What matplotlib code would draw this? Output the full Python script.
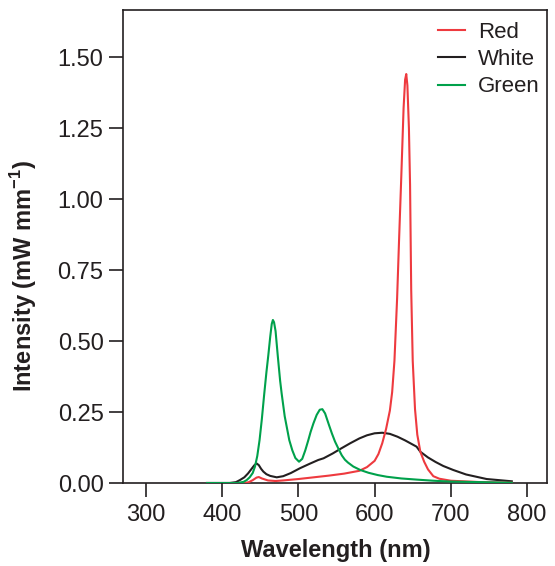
import matplotlib
matplotlib.use("Agg")
import matplotlib.pyplot as plt

plt.rcParams['font.family'] = ['Liberation Sans', 'DejaVu Sans']
plt.rcParams['mathtext.fontset'] = 'custom'
plt.rcParams['mathtext.rm'] = 'Liberation Sans'
plt.rcParams['mathtext.bf'] = 'Liberation Sans:bold'

red_wl = [380, 430, 435, 440, 445, 448, 452, 460, 470, 480, 500, 520, 540, 560, 580, 590,
          600, 605, 610, 615, 620, 623, 626, 629.5, 632, 635, 638, 640, 641.5, 643, 645, 646.5,
          648, 650, 653, 656, 660, 665, 670, 677, 685, 700, 740, 780]
red_val = [0, 0, 0.003, 0.01, 0.019, 0.021, 0.016, 0.009, 0.007, 0.009, 0.014, 0.02, 0.026,
           0.033, 0.043, 0.056, 0.078, 0.102, 0.14, 0.19, 0.255, 0.32, 0.43, 0.65, 0.85, 1.08,
           1.32, 1.42, 1.44, 1.40, 1.25, 1.05, 0.68, 0.43, 0.26, 0.17, 0.11, 0.075, 0.048, 0.024,
           0.015, 0.008, 0.003, 0.001]

white_wl = [380, 410, 418, 423, 429, 434, 438, 442, 445, 448, 451, 454, 458, 463, 471.5, 480,
            490, 502, 515, 526, 533, 545, 555, 568, 580, 590, 600, 610, 620, 630, 640, 655,
            660, 670, 680, 690, 703, 720, 747, 780]
white_val = [0, 0, 0.003, 0.01, 0.02, 0.034, 0.048, 0.062, 0.069, 0.063, 0.05, 0.04, 0.031,
             0.025, 0.02, 0.024, 0.035, 0.052, 0.068, 0.081, 0.087, 0.104, 0.12, 0.14, 0.157,
             0.168, 0.175, 0.177, 0.173, 0.163, 0.15, 0.128, 0.11, 0.09, 0.074, 0.06, 0.046,
             0.03, 0.014, 0.006]

green_wl = [380, 420, 428, 432, 436, 440, 443, 446, 449, 452, 455, 458, 460.5, 463, 465,
            466.5, 468, 470, 473, 476, 478, 482, 488, 492, 496, 500.8, 505, 509, 513, 516,
            519.7, 524, 528, 531.4, 535, 540, 544, 548, 553, 557, 561, 565, 572, 581, 592, 604,
            616, 635, 655, 677, 700, 740, 780]
green_val = [0, 0.0, 0.004, 0.01, 0.02, 0.035, 0.058, 0.095, 0.151, 0.225, 0.31, 0.39, 0.45,
             0.515, 0.56, 0.574, 0.566, 0.535, 0.445, 0.36, 0.315, 0.235, 0.151, 0.115, 0.088,
             0.075, 0.085, 0.115, 0.151, 0.18, 0.21, 0.24, 0.258, 0.26, 0.245, 0.205, 0.174,
             0.146, 0.118, 0.097, 0.082, 0.072, 0.058, 0.046, 0.036, 0.028, 0.022, 0.016,
             0.012, 0.008, 0.005, 0.003, 0.001]

series_names = ["Red", "White", "Green"]
x_ticks = [300, 400, 500, 600, 700, 800]
y_ticks = [0.00, 0.25, 0.50, 0.75, 1.00, 1.25, 1.50]

fig = plt.figure(figsize=(5.55, 5.66), dpi=100)
ax = fig.add_axes([123/555, 1-483/566, 424/555, 473/566])

lw = 1.5
ax.plot(red_wl, red_val, color='#EE3A3F', lw=lw, label=series_names[0], zorder=3)
ax.plot(white_wl, white_val, color='#231F20', lw=lw, label=series_names[1], zorder=2)
ax.plot(green_wl, green_val, color='#00A14B', lw=lw, label=series_names[2], zorder=4)

ax.set_xlim(269.8, 826.2)
ax.set_ylim(0, 1.6655)
ax.set_xticks(x_ticks)
ax.set_xticklabels([str(t) for t in x_ticks])
ax.set_yticks(y_ticks)
ax.set_yticklabels([f"{t:.2f}" for t in y_ticks])

for s in ax.spines.values():
    s.set_color('#231F20')
    s.set_linewidth(1.2)
ax.tick_params(direction='out', length=10, width=1.2, color='#231F20',
               labelsize=17, labelcolor='#231F20')
ax.tick_params(axis='x', pad=5)
ax.tick_params(axis='y', pad=4)

ax.set_xlabel('Wavelength (nm)', fontsize=17, fontweight='bold', color='#231F20')
ax.set_ylabel(r'Intensity (mW mm$^{\mathbf{-1}}$)', fontsize=17, fontweight='bold', color='#231F20')
ax.xaxis.set_label_coords(0.502, -0.118)
ax.yaxis.set_label_coords(-0.198, 0.438)

leg = ax.legend(loc='upper right', frameon=False, fontsize=16, handlelength=1.25,
                handletextpad=0.55, labelspacing=0.28, borderaxespad=0.0,
                bbox_to_anchor=(1.003, 0.9937))
for t in leg.get_texts():
    t.set_color('#231F20')

fig.savefig('out.png', dpi=100)
